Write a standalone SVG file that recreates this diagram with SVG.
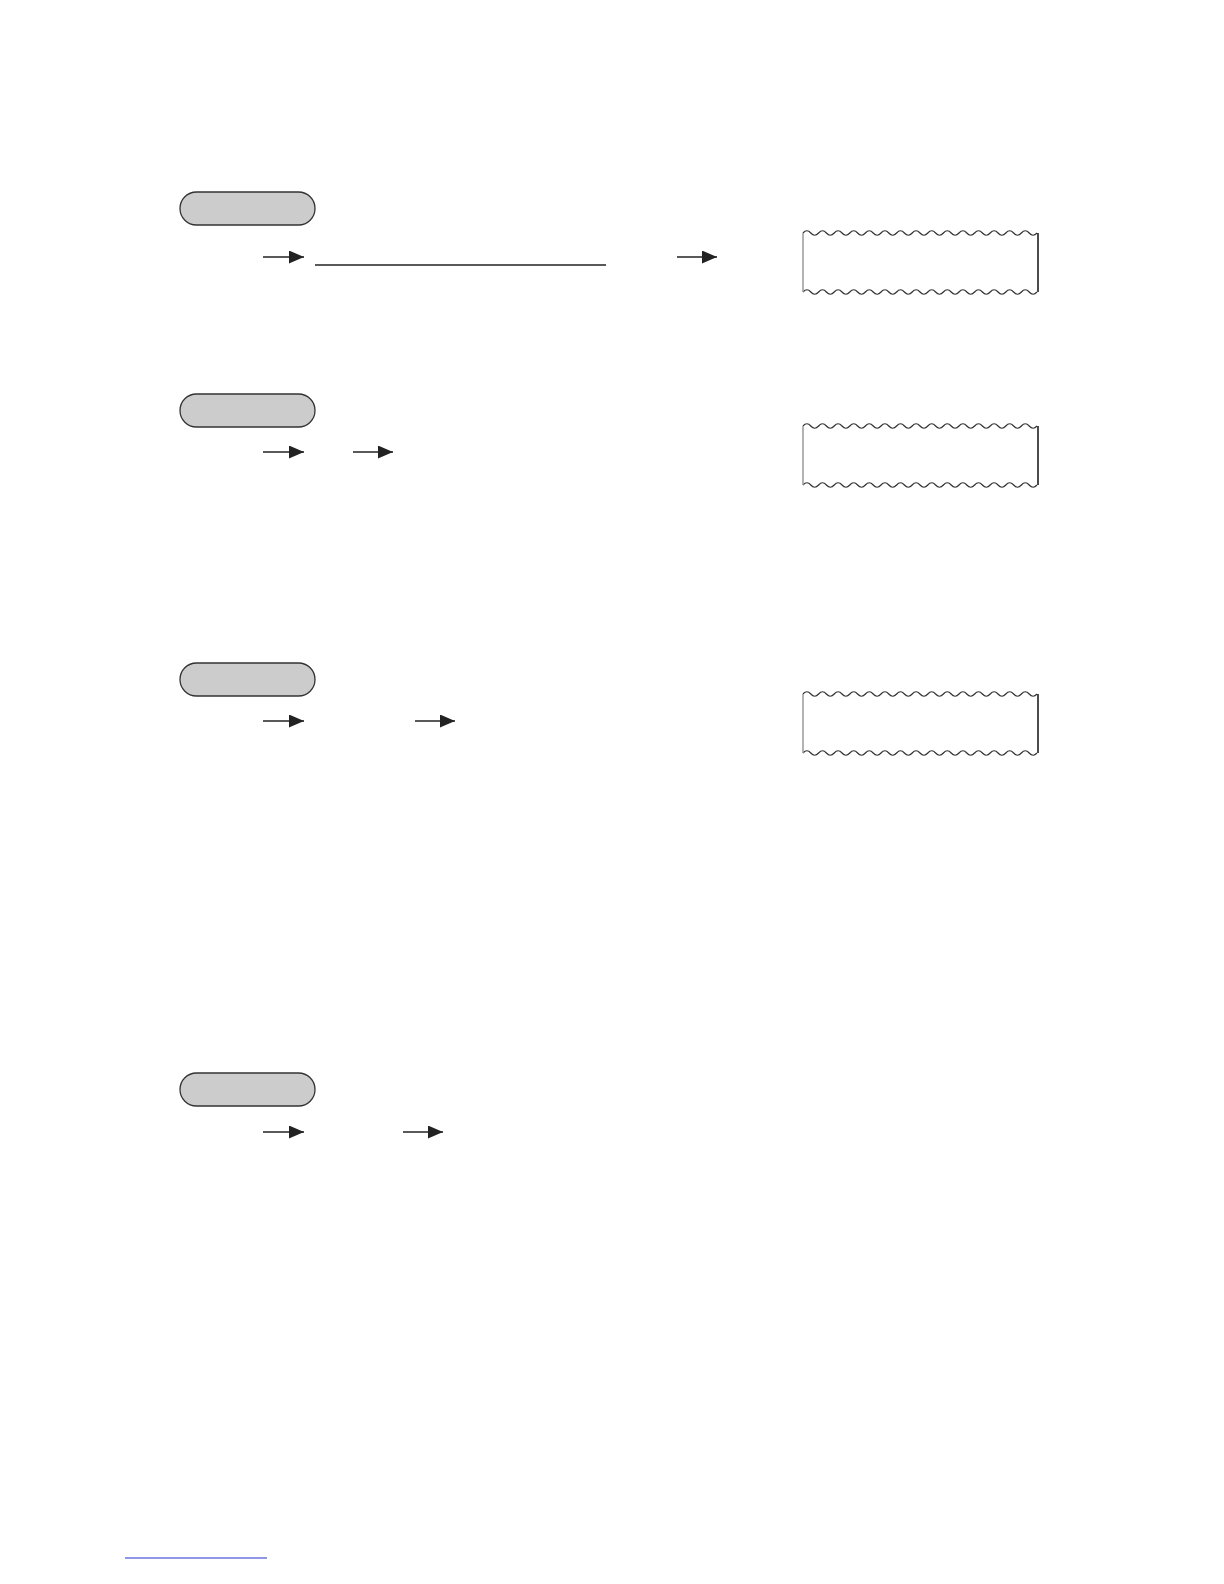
<svg xmlns="http://www.w3.org/2000/svg" width="1224" height="1584" viewBox="0 0 1224 1584">
<style>
.pill{fill:#cccccc;stroke:#333;stroke-width:1.3}
.arr{stroke:#222;stroke-width:1.5;fill:none}
.wave{fill:none;stroke:#333;stroke-width:1.2}
.edgeL{stroke:#999;stroke-width:1.5}
.edgeR{stroke:#111;stroke-width:1.5}
</style>
<defs>
<marker id="ah" markerWidth="15" markerHeight="13" refX="15" refY="6.5" orient="auto" markerUnits="userSpaceOnUse">
<path d="M0,0 L15,6.5 L0,13 Z" fill="#222"/>
</marker>
<g id="wbox">
<path class="wave" d="M0,0 q3.9,-4.5 7.8,0 t7.8,0 t7.8,0 t7.8,0 t7.8,0 t7.8,0 t7.8,0 t7.8,0 t7.8,0 t7.8,0 t7.8,0 t7.8,0 t7.8,0 t7.8,0 t7.8,0 t7.8,0 t7.8,0 t7.8,0 t7.8,0 t7.8,0 t7.8,0 t7.8,0 t7.8,0 t7.8,0 t7.8,0 t7.8,0 t7.8,0 t7.8,0 t7.8,0 t7.8,0"/>
<path class="wave" d="M0,59 q3.9,-4.5 7.8,0 t7.8,0 t7.8,0 t7.8,0 t7.8,0 t7.8,0 t7.8,0 t7.8,0 t7.8,0 t7.8,0 t7.8,0 t7.8,0 t7.8,0 t7.8,0 t7.8,0 t7.8,0 t7.8,0 t7.8,0 t7.8,0 t7.8,0 t7.8,0 t7.8,0 t7.8,0 t7.8,0 t7.8,0 t7.8,0 t7.8,0 t7.8,0 t7.8,0 t7.8,0"/>
<line class="edgeL" x1="0" y1="0" x2="0" y2="59"/>
<line class="edgeR" x1="235" y1="0" x2="235" y2="59"/>
</g>
</defs>

<g id="step1">
<rect class="pill" x="180" y="192" width="135" height="33" rx="16.5"/>
</g>
<g id="box1"><use href="#wbox" x="803" y="233"/></g>

<g id="step2">
<rect class="pill" x="180" y="394" width="135" height="33" rx="16.5"/>
</g>
<g id="box2"><use href="#wbox" x="803" y="426"/></g>

<g id="step3">
<rect class="pill" x="180" y="663" width="135" height="33" rx="16.5"/>
</g>
<g id="box3"><use href="#wbox" x="803" y="694"/></g>

<g id="step4">
<rect class="pill" x="180" y="1073" width="135" height="33" rx="16.5"/>
</g>

<g id="connectors">
<line class="arr" x1="263" y1="257" x2="304" y2="257" marker-end="url(#ah)"/>
<line x1="315" y1="265" x2="606" y2="265" stroke="#222" stroke-width="1.3"/>
<line class="arr" x1="677" y1="257" x2="717" y2="257" marker-end="url(#ah)"/>
<line class="arr" x1="263" y1="452" x2="304" y2="452" marker-end="url(#ah)"/>
<line class="arr" x1="353" y1="452" x2="393" y2="452" marker-end="url(#ah)"/>
<line class="arr" x1="263" y1="721" x2="304" y2="721" marker-end="url(#ah)"/>
<line class="arr" x1="415" y1="721" x2="455" y2="721" marker-end="url(#ah)"/>
<line class="arr" x1="263" y1="1132" x2="304" y2="1132" marker-end="url(#ah)"/>
<line class="arr" x1="403" y1="1132" x2="443" y2="1132" marker-end="url(#ah)"/>
</g>
<line x1="125" y1="1558" x2="267" y2="1558" stroke="#2233cc" stroke-width="1.2"/>
</svg>
